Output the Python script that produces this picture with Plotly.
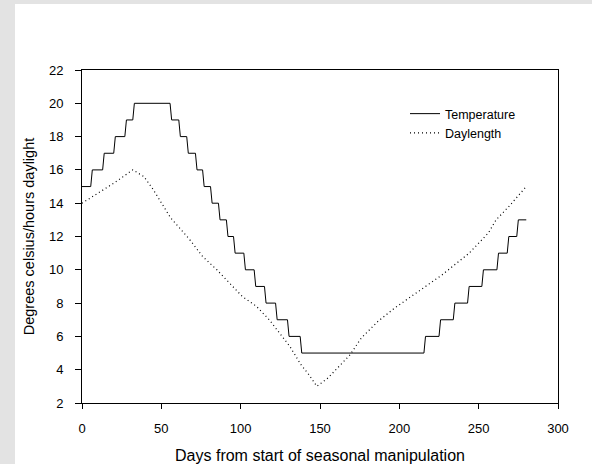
import plotly.graph_objects as go

# ---- data ----
# Temperature: day at which each new level starts, and the level held
temp_step_days = [0, 6, 13.5, 20.5, 27.5, 32.5, 56, 61.5, 66.5, 72, 76.5, 81.5, 86.5,
                  91.5, 96, 102.5, 109, 115.5, 122.5, 130, 138, 216, 225.5, 234.5,
                  243.5, 252.5, 262, 268.5, 274.5]
temp_levels = [15, 16, 17, 18, 19, 20, 19, 18, 17, 16, 15, 14, 13, 12, 11, 10, 9, 8, 7,
               6, 5, 6, 7, 8, 9, 10, 11, 12, 13]
temp_end_day = 280

# Daylength (hours)
day_days = [0, 10, 20, 32, 39, 45, 52, 56, 68, 76, 85, 93, 101, 110, 118, 124.5, 131,
            138, 143, 148, 155, 162, 169, 176, 186.5, 197, 206, 214, 227, 244, 252,
            256, 261, 269, 280]
day_hours = [14.0, 14.6, 15.2, 16.0, 15.6, 14.8, 13.7, 13.1, 11.8, 10.8, 10.0, 9.2, 8.4,
             7.8, 7.0, 6.2, 5.4, 4.3, 3.7, 3.0, 3.5, 4.2, 4.9, 5.9, 6.9, 7.7, 8.3, 8.8,
             9.7, 11.0, 11.8, 12.2, 13.0, 13.8, 15.0]

x_ticks = [0, 50, 100, 150, 200, 250, 300]
y_ticks = [2, 4, 6, 8, 10, 12, 14, 16, 18, 20, 22]

# build step line for temperature (each change takes ~1 day)
tx, ty = [temp_step_days[0]], [temp_levels[0]]
for i in range(1, len(temp_step_days)):
    d = temp_step_days[i]
    tx += [d - 0.5, d + 0.5]
    ty += [temp_levels[i - 1], temp_levels[i]]
tx.append(temp_end_day)
ty.append(temp_levels[-1])

FONT = "Liberation Sans, Arial, sans-serif"

fig = go.Figure()
fig.add_trace(go.Scatter(x=tx, y=ty, mode="lines", name="Temperature",
                         line=dict(color="black", width=1)))
fig.add_trace(go.Scatter(x=day_days, y=day_hours, mode="lines", name="Daylength",
                         line=dict(color="black", width=1.2, dash="1px,3px")))

W, H = 592, 464
L, R, T, B = 82, 34, 70, 61
pw, ph = W - L - R, H - T - B

# white page on light grey background
fig.add_shape(type="rect", xref="paper", yref="paper", layer="below",
              x0=(15 - L) / pw, x1=(W + 5 - L) / pw,
              y0=-(B + 5) / ph, y1=(H - B - 4) / ph,
              fillcolor="white", line=dict(width=0))

fig.update_layout(
    width=W, height=H,
    margin=dict(l=L, r=R, t=T, b=B, pad=0, autoexpand=False),
    paper_bgcolor="#e3e3e3",
    plot_bgcolor="rgba(0,0,0,0)",
    font=dict(family=FONT, size=13, color="black"),
    showlegend=True,
    legend=dict(x=(405 - L) / pw, y=(H - B - 99) / ph, xanchor="left", yanchor="top",
                bgcolor="rgba(0,0,0,0)", font=dict(size=12.5, family=FONT),
                tracegroupgap=0),
    xaxis=dict(range=[0, 300], tickvals=x_ticks, ticks="outside", ticklen=5,
               tickcolor="black", showline=True, linecolor="black", linewidth=1,
               mirror=True, showgrid=False, zeroline=False, automargin=False,
               tickfont=dict(size=13), ticklabelstandoff=8,
               title=dict(text="Days from start of seasonal manipulation",
                          font=dict(size=16), standoff=16)),
    yaxis=dict(range=[2, 22], tickvals=y_ticks, ticks="outside", ticklen=6,
               tickcolor="black", showline=True, linecolor="black", linewidth=1,
               mirror=True, showgrid=False, zeroline=False, automargin=False,
               tickfont=dict(size=13), ticklabelstandoff=9,
               title=dict(text="Degrees celsius/hours daylight",
                          font=dict(size=14.5), standoff=10)),
)

fig.write_html("out.html")
